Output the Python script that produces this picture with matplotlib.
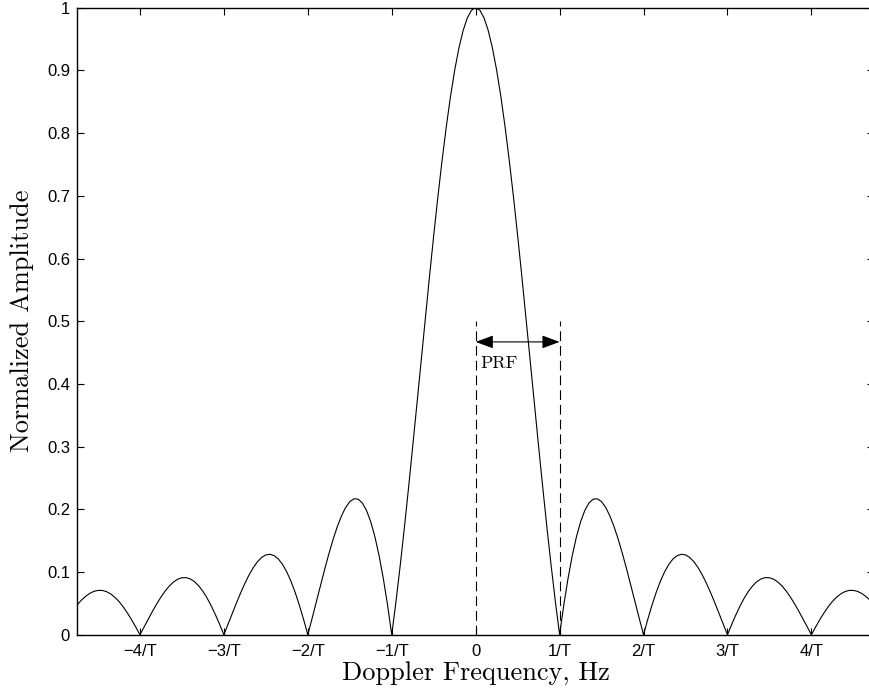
import matplotlib.pyplot as plt

# |amplitude|, positive frequencies (units of 1/T), mirrored for negative side
freq_pos = [round(0.05 * i, 2) for i in range(97)]
amp_pos = [1.0000, 0.9959, 0.9836, 0.9634, 0.9355, 0.9003, 0.8584, 0.8103, 0.7568, 0.6987,
           0.6366, 0.5716, 0.5046, 0.4363, 0.3679, 0.3001, 0.2339, 0.1700, 0.1093, 0.0524,
           0.0000, 0.0474, 0.0894, 0.1257, 0.1559, 0.1801, 0.1981, 0.2101, 0.2162, 0.2168,
           0.2122, 0.2028, 0.1892, 0.1719, 0.1515, 0.1286, 0.1039, 0.0781, 0.0518, 0.0255,
           0.0000, 0.0243, 0.0468, 0.0672, 0.0851, 0.1000, 0.1120, 0.1207, 0.1261, 0.1283,
           0.1273, 0.1233, 0.1164, 0.1070, 0.0954, 0.0818, 0.0668, 0.0507, 0.0339, 0.0169,
           0.0000, 0.0163, 0.0317, 0.0459, 0.0585, 0.0693, 0.0780, 0.0847, 0.0890, 0.0911,
           0.0909, 0.0886, 0.0841, 0.0777, 0.0696, 0.0600, 0.0492, 0.0375, 0.0252, 0.0126,
           0.0000, 0.0123, 0.0240, 0.0348, 0.0446, 0.0530, 0.0599, 0.0652, 0.0688, 0.0707,
           0.0707, 0.0691, 0.0658, 0.0610, 0.0548, 0.0474, 0.0390]

freq = [-f for f in freq_pos[:0:-1]] + freq_pos
amp = amp_pos[:0:-1] + amp_pos

xticks = [-4, -3, -2, -1, 0, 1, 2, 3, 4]
xtick_labels = ['\u22124/T', '\u22123/T', '\u22122/T', '\u22121/T', '0', '1/T', '2/T', '3/T', '4/T']
yticks = [0, 0.1, 0.2, 0.3, 0.4, 0.5, 0.6, 0.7, 0.8, 0.9, 1]
ytick_labels = ['0', '0.1', '0.2', '0.3', '0.4', '0.5', '0.6', '0.7', '0.8', '0.9', '1']

prf_edges = [0, 1]
prf_top = 0.5
prf_arrow_y = 0.467

fig = plt.figure(figsize=(8.7, 6.94), dpi=100)
ax = fig.add_axes([0.0885, 0.0854, 0.9165, 0.9035])

ax.plot(freq, amp, color='black', linewidth=0.8)

for xe in prf_edges:
    ax.plot([xe, xe], [0, prf_top], color='black', linewidth=0.8, linestyle=(0, (8.75, 4.5)))

ax.annotate('', xy=(prf_edges[1], prf_arrow_y), xytext=(prf_edges[0], prf_arrow_y),
            arrowprops=dict(arrowstyle='<|-|>,head_length=0.54,head_width=0.2',
                            color='black', lw=0.8, mutation_scale=20,
                            shrinkA=0, shrinkB=0))
ax.text(0.06, 0.433, 'PRF', fontfamily='cmr10', fontsize=13, va='center', ha='left')

ax.set_xlim(-4.75, 4.75)
ax.set_ylim(0, 1)
ax.set_xticks(xticks)
ax.set_xticklabels(xtick_labels, fontfamily='Liberation Sans', fontsize=12)
ax.set_yticks(yticks)
ax.set_yticklabels(ytick_labels, fontfamily='Liberation Sans', fontsize=12)
ax.tick_params(direction='in', length=5, width=0.8, top=True, right=True)
ax.tick_params(axis='x', pad=7)
ax.tick_params(axis='y', pad=5)
for s in ax.spines.values():
    s.set_linewidth(1.0)

ax.set_xlabel('Doppler Frequency, Hz', fontfamily='cmr10', fontsize=19, labelpad=1)
ax.set_ylabel('Normalized Amplitude', fontfamily='cmr10', fontsize=19, labelpad=9)

fig.savefig('out.png', dpi=100)
